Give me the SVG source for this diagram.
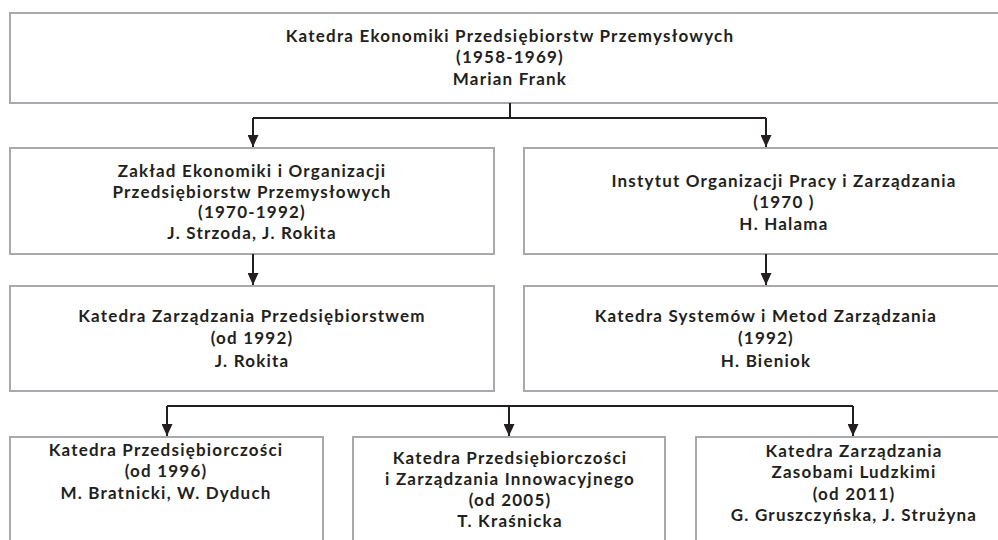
<svg xmlns="http://www.w3.org/2000/svg" width="998" height="540" viewBox="0 0 998 540">
<style>
.box{fill:#fff;stroke:#a7a9ac;stroke-width:2}
.t{font-family:Lato,"Open Sans","Liberation Sans",sans-serif;font-weight:700;font-size:17px;letter-spacing:1.2px;fill:#231f20;text-anchor:middle}
.c{fill:none;stroke:#231f20;stroke-width:2}
</style>
<defs>
<marker id="ah" markerUnits="userSpaceOnUse" markerWidth="12" markerHeight="11" refX="12" refY="5.5" orient="auto" viewBox="0 0 12 11">
<path d="M0,0 L12,5.5 L0,11 z" fill="#231f20"/>
</marker>
</defs>
<rect width="998" height="540" fill="#fff"/>
<g id="n-top">
<rect class="box" x="10" y="13" width="1000" height="90"/>
<text class="t" x="510" y="42">Katedra Ekonomiki Przedsiębiorstw Przemysłowych</text>
<text class="t" x="510" y="63">(1958-1969)</text>
<text class="t" x="510" y="85">Marian Frank</text>
</g>
<g id="n-zaklad">
<rect class="box" x="10" y="148" width="484" height="106"/>
<text class="t" x="252" y="177">Zakład Ekonomiki i Organizacji</text>
<text class="t" x="252" y="197.5">Przedsiębiorstw Przemysłowych</text>
<text class="t" x="252" y="218">(1970-1992)</text>
<text class="t" x="252" y="238.5">J. Strzoda, J. Rokita</text>
</g>
<g id="n-instytut">
<rect class="box" x="524" y="148" width="486" height="106"/>
<text class="t" x="784" y="187">Instytut Organizacji Pracy i Zarządzania</text>
<text class="t" x="784" y="208">(1970 )</text>
<text class="t" x="784" y="230">H. Halama</text>
</g>
<g id="n-kzp">
<rect class="box" x="10" y="286" width="484" height="105"/>
<text class="t" x="252" y="322">Katedra Zarządzania Przedsiębiorstwem</text>
<text class="t" x="252" y="344">(od 1992)</text>
<text class="t" x="252" y="367">J. Rokita</text>
</g>
<g id="n-ksmz">
<rect class="box" x="524" y="286" width="486" height="105"/>
<text class="t" x="766" y="322">Katedra Systemów i Metod Zarządzania</text>
<text class="t" x="766" y="344">(1992)</text>
<text class="t" x="766" y="367">H. Bieniok</text>
</g>
<g id="n-kp">
<rect class="box" x="10" y="437" width="313" height="120"/>
<text class="t" x="166" y="456">Katedra Przedsiębiorczości</text>
<text class="t" x="166" y="477">(od 1996)</text>
<text class="t" x="166" y="499">M. Bratnicki, W. Dyduch</text>
</g>
<g id="n-kpzi">
<rect class="box" x="353" y="437" width="312" height="120"/>
<text class="t" x="510" y="464">Katedra Przedsiębiorczości</text>
<text class="t" x="510" y="485">i Zarządzania Innowacyjnego</text>
<text class="t" x="510" y="506">(od 2005)</text>
<text class="t" x="510" y="527">T. Kraśnicka</text>
</g>
<g id="n-kzzl">
<rect class="box" x="696" y="437" width="314" height="120"/>
<text class="t" x="854" y="457">Katedra Zarządzania</text>
<text class="t" x="854" y="478">Zasobami Ludzkimi</text>
<text class="t" x="854" y="500">(od 2011)</text>
<text class="t" x="854" y="521">G. Gruszczyńska, J. Strużyna</text>
</g>
<g id="connectors">
<path class="c" d="M510,103 V118 M253,118 H766"/>
<path class="c" d="M253,118 V147" marker-end="url(#ah)"/>
<path class="c" d="M766,118 V147" marker-end="url(#ah)"/>
<path class="c" d="M253,254 V285" marker-end="url(#ah)"/>
<path class="c" d="M766,254 V285" marker-end="url(#ah)"/>
<path class="c" d="M167,406 H853"/>
<path class="c" d="M167,406 V436" marker-end="url(#ah)"/>
<path class="c" d="M509,406 V436" marker-end="url(#ah)"/>
<path class="c" d="M853,406 V436" marker-end="url(#ah)"/>
</g>
</svg>
